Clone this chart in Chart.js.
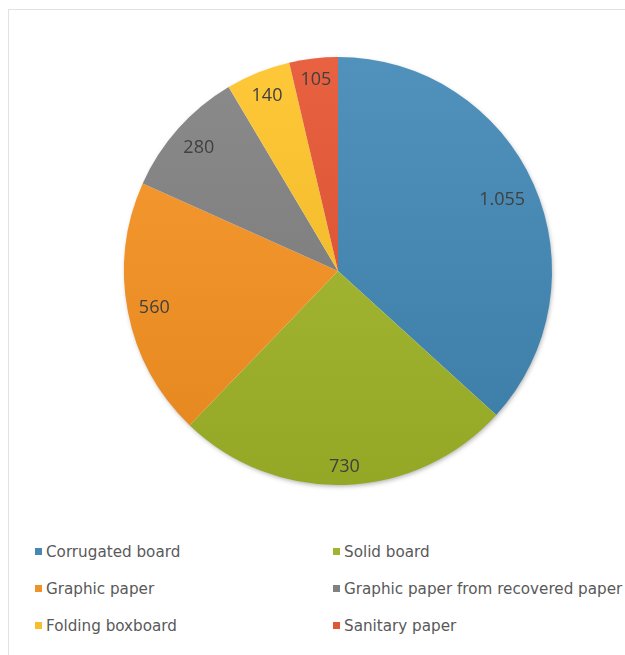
<!doctype html>
<html lang="en">

<head>
    <meta charset="utf-8">
    <title>Paper production by grade</title>
    <script src="https://cdn.jsdelivr.net/npm/chart.js"></script>
    <style>
        html, body {
            margin: 0;
            padding: 0;
            background: #fff;
            overflow: hidden;
        }
        #frame {
            position: absolute;
            left: 8px;
            top: 9px;
            width: 700px;
            height: 700px;
            border: 1px solid #e2e2e2;
        }
        #pie-wrap {
            position: absolute;
            left: 0;
            top: 0;
        }
        #legend {
            position: absolute;
            left: 0;
            top: 542px;
            font-family: "DejaVu Sans", sans-serif;
            font-size: 15.2px;
            color: #595959;
        }
        .legend-item {
            position: absolute;
            white-space: nowrap;
            line-height: 20px;
        }
        .legend-box {
            display: inline-block;
            width: 7px;
            height: 7px;
            margin-right: 4px;
            vertical-align: 2px;
        }
    </style>
</head>

<body>
    <div id="frame"></div>
    <div id="pie-wrap">
        <canvas id="myChart" width="625" height="500"></canvas>
    </div>
    <div id="legend"></div>

    <script>
        // grades and their volumes
        const grades = [
            'Corrugated board',
            'Solid board',
            'Graphic paper',
            'Graphic paper from recovered paper',
            'Folding boxboard',
            'Sanitary paper'
        ];
        const volumes = [1055, 730, 560, 280, 140, 105];
        const sliceColors = ['#4688b2', '#a0b431', '#f0922a', '#818181', '#f4be2e', '#de5737'];

        // 1055 -> "1.055"
        function formatValue(v) {
            return String(v).replace(/\B(?=(\d{3})+(?!\d))/g, '.');
        }

        function shade(hex, amt) {
            let n = parseInt(hex.slice(1), 16);
            let r = (n >> 16) & 255, g = (n >> 8) & 255, b = n & 255;
            const f = c => Math.max(0, Math.min(255, Math.round(c + amt)));
            return 'rgb(' + f(r) + ',' + f(g) + ',' + f(b) + ')';
        }

        // light at the top of the pie, darker at the bottom
        function sliceFill(context) {
            const chart = context.chart;
            const area = chart.chartArea;
            const base = sliceColors[context.dataIndex];
            if (!area) return base;
            const grad = chart.ctx.createLinearGradient(0, area.top, 0, area.bottom);
            grad.addColorStop(0, shade(base, 10));
            grad.addColorStop(1, shade(base, -12));
            return grad;
        }

        // soft shadow under the whole pie
        const pieShadow = {
            id: 'pieShadow',
            beforeDatasetsDraw(chart) {
                const arc = chart.getDatasetMeta(0).data[0];
                if (!arc) return;
                const ctx = chart.ctx;
                ctx.save();
                ctx.shadowColor = 'rgba(0,0,0,0.35)';
                ctx.shadowBlur = 5;
                ctx.shadowOffsetX = 1;
                ctx.shadowOffsetY = 2;
                ctx.fillStyle = '#fff';
                ctx.beginPath();
                ctx.arc(arc.x, arc.y, arc.outerRadius - 1, 0, Math.PI * 2);
                ctx.fill();
                ctx.restore();
            }
        };

        // value labels placed inside the outer edge of each slice
        const insideEndLabels = {
            id: 'insideEndLabels',
            afterDatasetsDraw(chart) {
                const ctx = chart.ctx;
                const meta = chart.getDatasetMeta(0);
                const values = chart.data.datasets[0].data;
                ctx.save();
                ctx.font = '18px "Open Sans", sans-serif';
                ctx.fillStyle = '#404040';
                ctx.textAlign = 'center';
                ctx.textBaseline = 'middle';
                meta.data.forEach(function (arc, i) {
                    const p = arc.getProps(['x', 'y', 'startAngle', 'endAngle', 'outerRadius'], true);
                    const mid = (p.startAngle + p.endAngle) / 2;
                    const text = formatValue(values[i]);
                    const hw = ctx.measureText(text).width / 2;
                    const hh = 9;
                    const c = Math.cos(mid), s = Math.sin(mid);
                    const r = p.outerRadius - 10 - (hw * Math.abs(c) + hh * Math.abs(s));
                    ctx.fillText(text, p.x + r * c, p.y + r * s + 1);
                });
                ctx.restore();
            }
        };

        function buildLegend() {
            const legend = document.getElementById('legend');
            const colX = [35, 333];
            grades.forEach(function (name, i) {
                const item = document.createElement('div');
                item.className = 'legend-item';
                item.style.left = colX[i % 2] + 'px';
                item.style.top = (Math.floor(i / 2) * 37) + 'px';
                const box = document.createElement('span');
                box.className = 'legend-box';
                box.style.background = sliceColors[i];
                item.appendChild(box);
                item.appendChild(document.createTextNode(name));
                legend.appendChild(item);
            });
        }

        function displayPie() {
            const data = {
                labels: grades,
                datasets: [{
                    data: volumes,
                    backgroundColor: sliceFill,
                    borderWidth: 0
                }]
            };
            const config = {
                type: 'pie',
                data: data,
                options: {
                    responsive: false,
                    animation: false,
                    layout: {
                        padding: { top: 57, bottom: 15, left: 124, right: 73 }
                    },
                    plugins: {
                        legend: { display: false },
                        tooltip: { enabled: false }
                    }
                },
                plugins: [pieShadow, insideEndLabels]
            };
            const myChart = new Chart(document.getElementById('myChart'), config);
        }

        displayPie();
        buildLegend();
    </script>
</body>

</html>
